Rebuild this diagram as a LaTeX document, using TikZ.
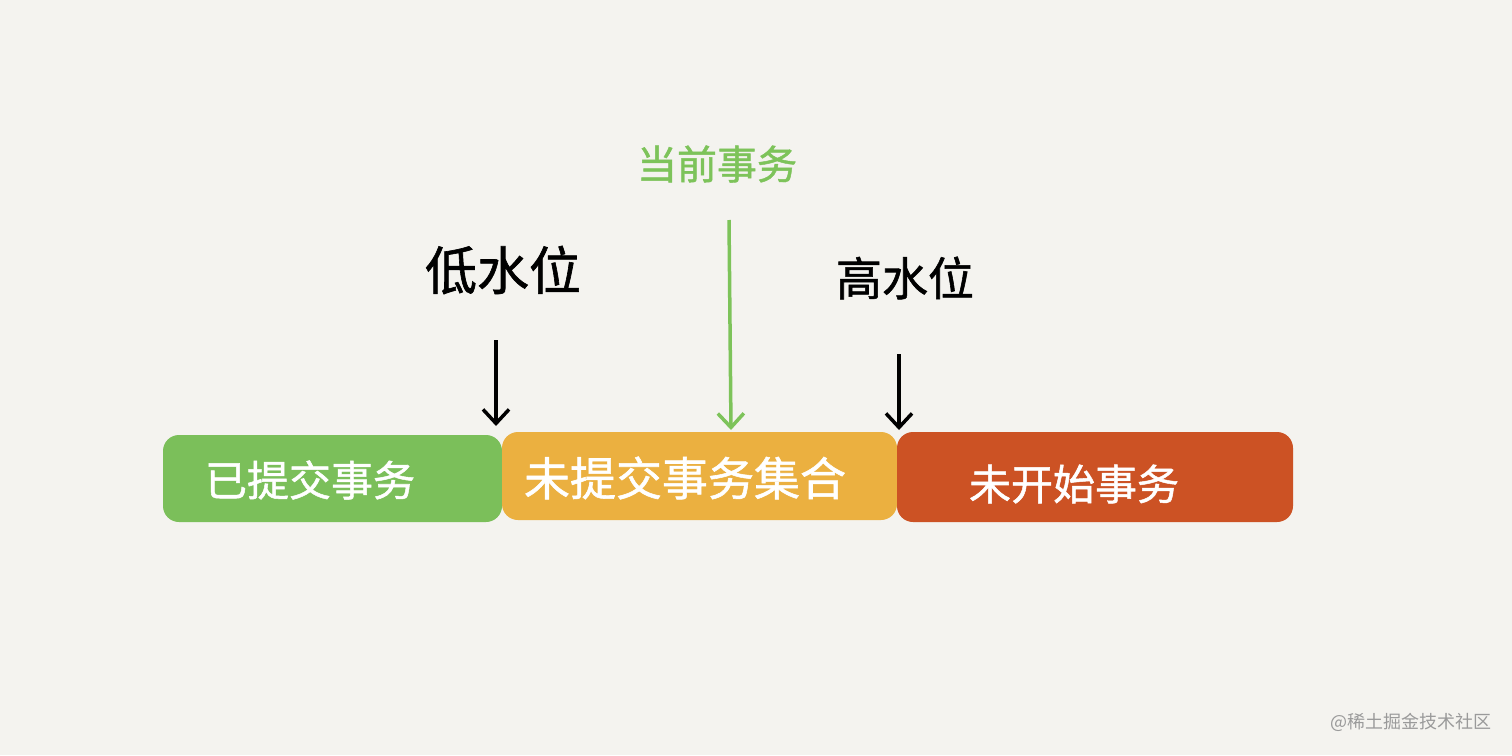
\documentclass[tikz,border=0pt]{standalone}
\usepackage{fontspec}
\setmainfont{Noto Sans CJK SC}
\newfontfamily\hand{Noto Sans CJK SC}[FakeBold=1.2]
\usetikzlibrary{arrows.meta}
\definecolor{bg}{HTML}{F4F3EF}
\definecolor{cgreen}{HTML}{7BBF5A}
\definecolor{corange}{HTML}{EBB040}
\definecolor{cred}{HTML}{CC5224}
\definecolor{tgreen}{HTML}{7DC35A}
\definecolor{wm}{HTML}{9A9A9A}
\tikzset{
  seg/.style={rounded corners=16pt, inner sep=0pt},
  segtext/.style={inner sep=0pt, text=white, font=\hand\fontsize{42}{42}\selectfont},
  lbl/.style={inner sep=0pt, font=\hand\fontsize{48}{48}\selectfont},
  pointer/.style={line width=3.5pt, -{Straight Barb[length=14pt,width=26pt,line width=3.5pt]}},
}
\begin{document}
\begin{tikzpicture}[x=1pt,y=-1pt]
\fill[bg] (0,0) rectangle (1512,755);
\useasboundingbox (0,0) rectangle (1512,755);
% segments
\node[seg, fill=cgreen, minimum width=339pt, minimum height=87pt] (done) at (332.5,478.5) {};
\node[seg, fill=corange, minimum width=395pt, minimum height=88pt] (open) at (699.5,476) {};
\node[seg, fill=cred, minimum width=396pt, minimum height=90pt] (future) at (1095,477) {};
\node[segtext] (tdone) at (310,480) {已提交事务};
\node[segtext, font=\hand\fontsize{46}{46}\selectfont] (topen) at (685,478) {未提交事务集合};
\node[segtext] (tfuture) at (1074,484) {未开始事务};
% labels
\node[lbl, font=\hand\fontsize{52}{52}\selectfont] (low) at (503,270) {低水位};
\node[lbl, font=\hand\fontsize{46}{46}\selectfont] (high) at (905,278) {高水位};
\node[lbl, text=tgreen, font=\hand\fontsize{40}{40}\selectfont] (cur) at (717,164) {当前事务};
% arrows
\coordinate (lowstart) at (496,340);
\coordinate (lowend) at (496,426);
\coordinate (highstart) at (899,354);
\coordinate (highend) at (899,430);
\coordinate (curstart) at (729,220);
\coordinate (curend) at (731,430);
\draw[pointer] (lowstart) -- (lowend);
\draw[pointer] (highstart) -- (highend);
\draw[pointer, draw=tgreen] (curstart) -- (curend);
% watermark
\node[inner sep=0pt, text=wm, font=\fontsize{18}{18}\selectfont] (mark) at (1411,722) {@稀土掘金技术社区};
\end{tikzpicture}
\end{document}
